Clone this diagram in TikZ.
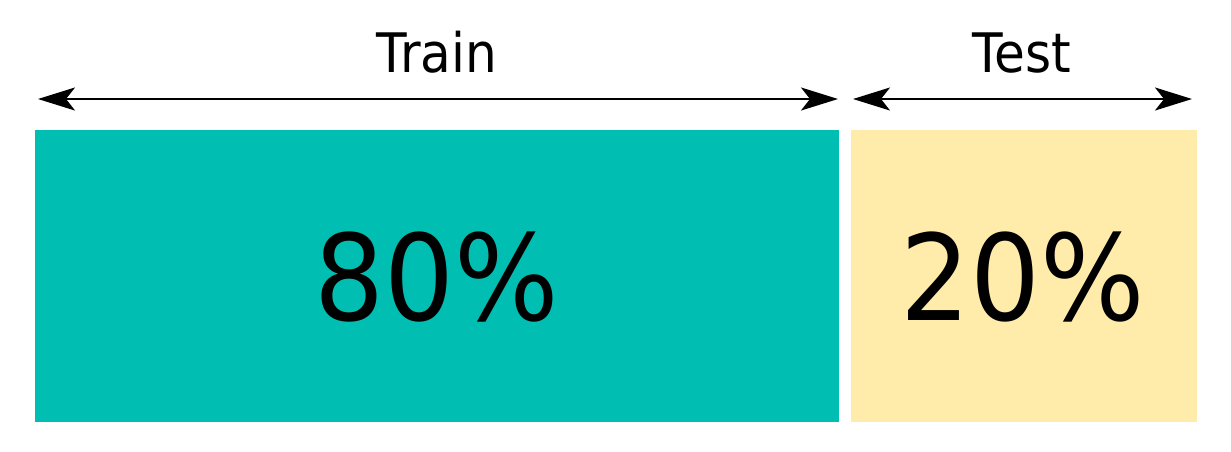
\documentclass[tikz,border=0pt]{standalone}
\usepackage{fontspec}
\setmainfont{DejaVu Sans}[FakeStretch=0.92]
\usetikzlibrary{positioning,arrows.meta}
\definecolor{TrainTeal}{RGB}{0,190,178}
\definecolor{TestYellow}{RGB}{255,236,170}

\begin{document}
\begin{tikzpicture}[x=0.02cm, y=-0.02cm, every node/.style={inner sep=0pt, outer sep=0pt}]
\useasboundingbox (0,0) rectangle (1231,451);
\node[fill=TrainTeal, minimum width=16.08cm, minimum height=5.84cm] (train) at (437,276) {};
\node[fill=TestYellow, minimum width=6.92cm, minimum height=5.84cm, right=0.24cm of train] (test) {};
\node[font=\fontsize{68}{70}\selectfont, anchor=base] (trainpct) at (437,320) {80\%};
\node[font=\fontsize{68}{70}\selectfont, anchor=base] (testpct) at (1023,320) {20\%};
\node[font=\fontsize{31}{33}\selectfont, anchor=base] (trainlbl) at (437,72) {Train};
\node[font=\fontsize{31}{33}\selectfont, anchor=base] (testlbl) at (1022,72) {Test};
\coordinate (trainL) at (38,99);
\coordinate (trainR) at (838,99);
\coordinate (testL) at (853,99);
\coordinate (testR) at (1192,99);
\draw[{Stealth[length=0.74cm, width=0.46cm, inset=0.18cm]}-{Stealth[length=0.74cm, width=0.46cm, inset=0.18cm]}, line width=1.2pt] (trainL) -- (trainR);
\draw[{Stealth[length=0.74cm, width=0.46cm, inset=0.18cm]}-{Stealth[length=0.74cm, width=0.46cm, inset=0.18cm]}, line width=1.2pt] (testL) -- (testR);
\end{tikzpicture}
\end{document}
